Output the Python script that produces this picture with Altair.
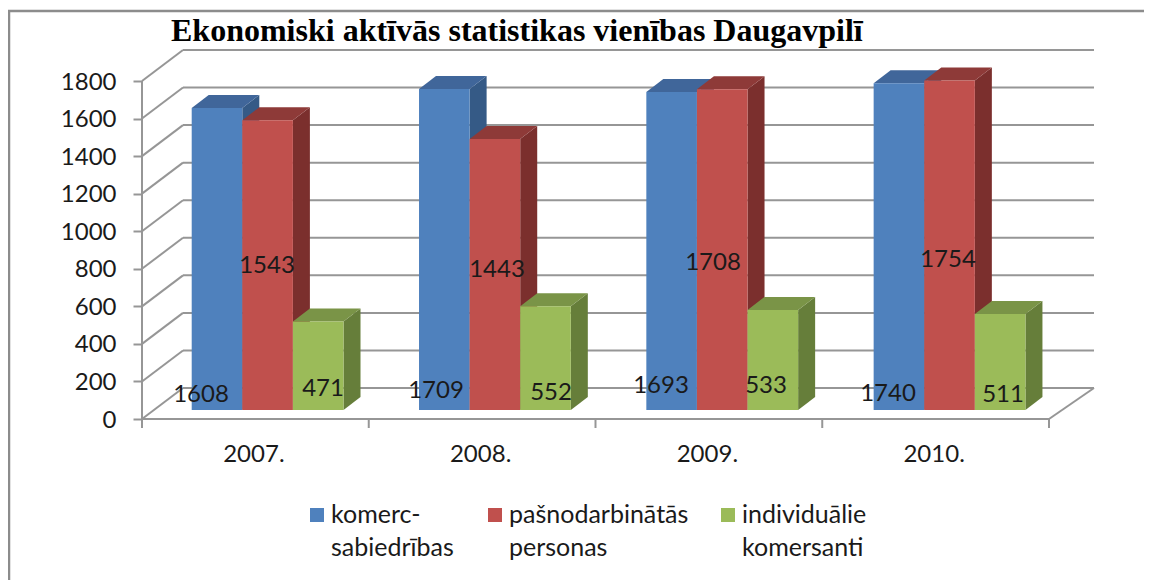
import altair as alt
import pandas as pd

# ---- chart values ----
TITLE = "Ekonomiski aktīvās statistikas vienības Daugavpilī"
years = ["2007.", "2008.", "2009.", "2010."]
series_names = ["komerc-sabiedrības", "pašnodarbinātās personas", "individuālie komersanti"]
legend_texts = ["komerc-\nsabiedrības", "pašnodarbinātās\npersonas", "individuālie\nkomersanti"]
komerc = [1608, 1709, 1693, 1740]
pasnodarb = [1543, 1443, 1708, 1754]
individ = [471, 552, 533, 511]
y_ticks = [0, 200, 400, 600, 800, 1000, 1200, 1400, 1600, 1800]

# ---- styles and layout ----
front = ["#4F81BD", "#C0504D", "#9BBB59"]
top_c = ["#40669A", "#8E3A38", "#7A9447"]
side_c = ["#355A86", "#7B2F2D", "#667E3A"]
GRID = "#969696"
FONT = "Lato"
TXT = "#1a1a1a"
UNIT_X = 226.75      # px per category
UNIT_Y = 338 / 1800  # px per value
W, H = 952, 370
X_MAX = W / UNIT_X
Y_MAX = H / UNIT_Y
WALL_X, WALL_Y = 41 / UNIT_X, 31 / UNIT_Y
BAR_X0, BAR_W = 49.7 / UNIT_X, 50.6 / UNIT_X
DEPTH_X, DEPTH_Y = 17 / UNIT_X, 13 / UNIT_Y
BASE = 48


def px_x(px):
    return (px - 142) / UNIT_X


def px_y(py):
    return (419 - py) / UNIT_Y


xs = alt.Scale(domain=[0, X_MAX], nice=False, zero=False)
ys = alt.Scale(domain=[0, Y_MAX], nice=False, zero=False)
x_axis = alt.Axis(
    values=[0.5, 1.5, 2.5, 3.5], title=None, domain=False, ticks=False, grid=False,
    labelExpr="['2007.','2008.','2009.','2010.'][floor(datum.value)]",
    labelFont=FONT, labelFontSize=24, labelColor=TXT, labelPadding=23, labelOffset=-2)
y_axis = alt.Axis(
    values=y_ticks, title=None, domain=False, grid=False, tickSize=9, tickWidth=2,
    tickColor=GRID, labelFont=FONT, labelFontSize=24, labelColor=TXT,
    labelPadding=17, labelOffset=1, format="d")
X = lambda f="x": alt.X(f"{f}:Q", scale=xs, axis=x_axis)
Y = lambda f="y": alt.Y(f"{f}:Q", scale=ys, axis=y_axis)
Y2 = lambda f="y2": alt.Y2(f"{f}:Q")

# ---- walls ----
grid_rows = []
for v in y_ticks:
    grid_rows += [dict(id=v, x=0, y=v), dict(id=v, x=WALL_X, y=v + WALL_Y)]
grid_rows += [dict(id="r", x=4, y=0), dict(id="r", x=X_MAX, y=WALL_Y)]
diag = alt.Chart(pd.DataFrame(grid_rows)).mark_line(color=GRID, strokeWidth=2).encode(
    x=X(), y=Y(), detail="id:N")

wall_df = pd.DataFrame(dict(y=[v + WALL_Y for v in y_ticks], x=WALL_X, x2=X_MAX))
wall = alt.Chart(wall_df).mark_rule(color=GRID, strokeWidth=2).encode(
    x=X(), x2="x2:Q", y=Y())
left_axis = alt.Chart(pd.DataFrame(dict(x=[0], y=[0], y2=[1800]))).mark_rule(
    color=GRID, strokeWidth=2).encode(x=X(), y=Y(), y2=Y2())
floor_axis = alt.Chart(pd.DataFrame(dict(x=[0], x2=[4], y=[0]))).mark_rule(
    color=GRID, strokeWidth=2).encode(x=X(), x2="x2:Q", y=Y())
x_ticks = alt.Chart(pd.DataFrame(dict(x=[0, 1, 2, 3, 4]))).mark_rule(
    color=GRID, strokeWidth=2).encode(x=X(), y=alt.value(H), y2=alt.value(H + 9))

# ---- bars: side, top and front of each series, back to front ----
layers = [wall, diag, left_axis, floor_axis, x_ticks]
for s, vals in enumerate([komerc, pasnodarb, individ]):
    sides, tops, fronts = [], [], []
    for i, v in enumerate(vals):
        xl = i + BAR_X0 + s * BAR_W + i * 0.0025
        xr = xl + BAR_W
        t = v + BASE
        sides += [dict(b=i, x=xr, y=BASE, y2=t), dict(b=i, x=xr + DEPTH_X, y=BASE + DEPTH_Y, y2=t + DEPTH_Y)]
        tops += [dict(b=i, x=xl, y=t, y2=t), dict(b=i, x=xl + DEPTH_X, y=t, y2=t + DEPTH_Y),
                 dict(b=i, x=xr, y=t, y2=t + DEPTH_Y), dict(b=i, x=xr + DEPTH_X, y=t + DEPTH_Y, y2=t + DEPTH_Y)]
        fronts.append(dict(x=xl, x2=xr, y=BASE, y2=t, series=series_names[s], value=v, year=years[i]))
    layers.append(alt.Chart(pd.DataFrame(sides)).mark_area(color=side_c[s], orient="vertical").encode(
        x=X(), y=Y(), y2=Y2(), detail="b:N"))
    layers.append(alt.Chart(pd.DataFrame(tops)).mark_area(color=top_c[s], orient="vertical").encode(
        x=X(), y=Y(), y2=Y2(), detail="b:N"))
    layers.append(alt.Chart(pd.DataFrame(fronts)).mark_rect(color=front[s]).encode(
        x=X(), x2="x2:Q", y=Y(), y2=Y2()))

# ---- data labels (hand-placed in the original), centre position in page pixels ----
label_px = [(201, 395), (436, 391), (661, 386), (888, 394),
            (267, 266), (497, 270), (713, 263), (948, 260),
            (323, 389), (551, 393), (766, 386), (1003, 395)]
label_vals = komerc + pasnodarb + individ
label_df = pd.DataFrame([
    dict(x=px_x(px), y=px_y(py), t=str(v))
    for (px, py), v in zip(label_px, label_vals)])
layers.append(alt.Chart(label_df).mark_text(
    font=FONT, fontSize=24, color=TXT, align="center", baseline="middle").encode(
    x=X(), y=Y(), text="t:N"))

# ---- legend ----
leg_x = [310, 488, 721]
leg_df = pd.DataFrame(dict(lx=[px_x(a + 7) for a in leg_x], tx=[px_x(a + 21) for a in leg_x],
                           ly=[px_y(515)] * 3, ty=[px_y(503)] * 3,
                           name=series_names, t=legend_texts))
color = alt.Color("name:N", scale=alt.Scale(domain=series_names, range=front), legend=None)
layers.append(alt.Chart(leg_df).mark_square(size=196, opacity=1).encode(
    x=X("lx"), y=Y("ly"), color=color))
layers.append(alt.Chart(leg_df).mark_text(
    font=FONT, fontSize=25, color=TXT, align="left", baseline="top",
    lineBreak="\n", lineHeight=33).encode(
    x=X("tx"), y=Y("ty"), text="t:N"))

# ---- frame ----
frame_left = alt.Chart(pd.DataFrame({"a": [0]})).mark_rule(color="#8c8c8c", strokeWidth=2.5).encode(
    x=alt.value(-133), y=alt.value(-38), y2=alt.value(531))
frame_top = alt.Chart(pd.DataFrame({"a": [0]})).mark_rule(color="#8c8c8c", strokeWidth=2.5).encode(
    x=alt.value(-134), x2=alt.value(1002), y=alt.value(-38))
layers += [frame_left, frame_top]

chart = alt.layer(*layers).properties(
    width=W, height=H,
    padding={"left": 134, "top": 41, "right": 50, "bottom": 161},
    autosize="none",
    title=alt.TitleParams(TITLE, font="Liberation Serif", fontSize=32, fontWeight="bold",
                          color="#000000", anchor="start", frame="group", dx=29, dy=38, offset=0),
).configure_view(stroke=None)

chart.save("out.html", embed_options={"renderer": "svg", "actions": False})
